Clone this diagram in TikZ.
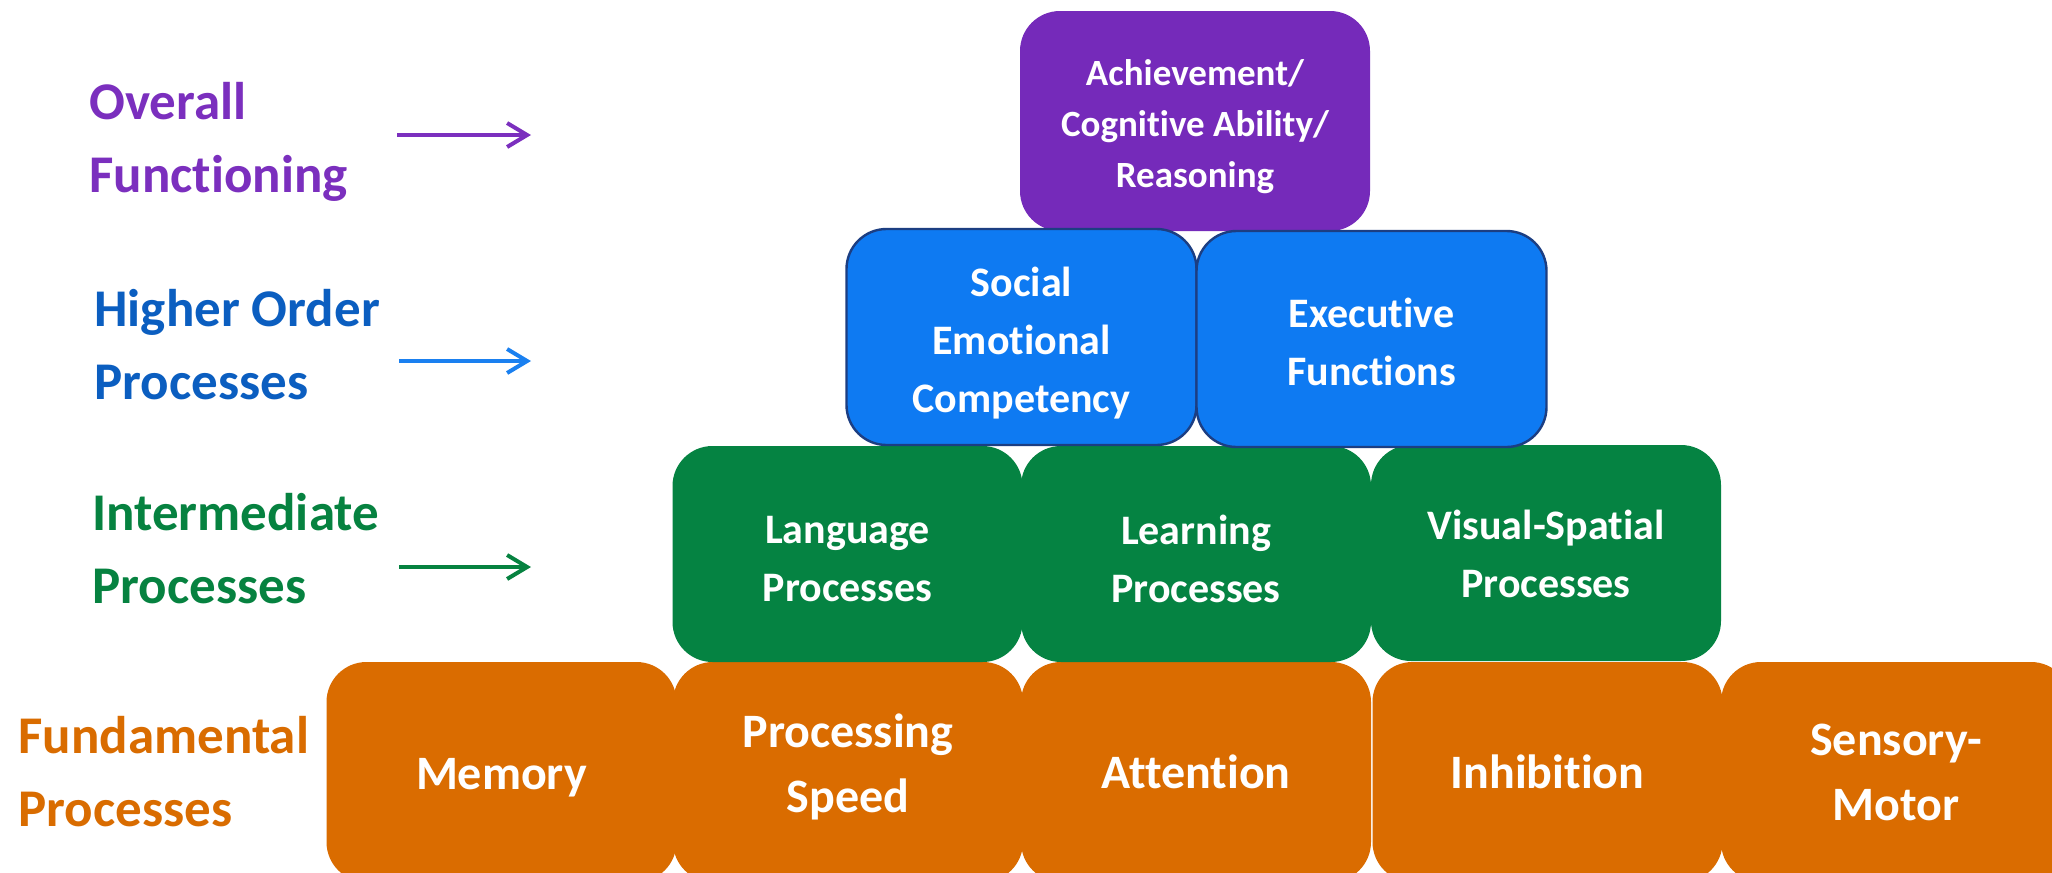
\documentclass[tikz,border=0pt]{standalone}
\usepackage{fontspec}
\setmainfont{Carlito}[Ligatures=CommonOff, Contextuals=AlternateOff]
\usetikzlibrary{arrows.meta}
\definecolor{boxpurple}{RGB}{117,42,186}
\definecolor{boxblue}{RGB}{14,122,242}
\definecolor{bordblue}{RGB}{28,62,130}
\definecolor{boxgreen}{RGB}{5,131,66}
\definecolor{boxorange}{RGB}{218,108,0}
\definecolor{txtpurple}{RGB}{123,47,190}
\definecolor{txtblue}{RGB}{11,94,192}
\definecolor{arrblue}{RGB}{26,128,240}
\definecolor{txtgreen}{RGB}{6,130,64}
\definecolor{txtorange}{RGB}{217,108,0}
\begin{document}
\begin{tikzpicture}[x=0.5pt,y=-0.5pt,
  box/.style={rectangle, rounded corners=20pt, minimum width=175pt, minimum height=108pt,
    inner sep=0pt},
  pbox/.style={box, fill=boxpurple, minimum height=110pt},
  bbox/.style={box, fill=boxblue, draw=bordblue, line width=1.2pt},
  gbox/.style={box, fill=boxgreen},
  obox/.style={box, fill=boxorange, minimum height=110pt},
  btext/.style={inner sep=0pt, text=white, align=center},
  ptext/.style={btext, font=\bfseries\fontsize{18.5pt}{25.5pt}\selectfont},
  mtext/.style={btext, font=\bfseries\fontsize{21pt}{29pt}\selectfont},
  otext/.style={btext, font=\bfseries\fontsize{24pt}{32.5pt}\selectfont},
  lvl/.style={anchor=west, align=left, inner sep=0pt, font=\bfseries\fontsize{26.5pt}{36.5pt}\selectfont},
  lvlarrow/.style={line width=2pt, -{Straight Barb[length=10pt,width=12pt]}}
]
\clip (0,0) rectangle (2052,873);
\fill[white] (0,0) rectangle (2052,873);

% Overall
\node[pbox] (ach) at (1195,121) {};

% Fundamental row
\node[obox] (mem) at (501.5,772) {};
\node[obox] (ps) at (848,772) {};
\node[obox] (att) at (1196,772) {};
\node[obox] (inh) at (1547.5,772) {};
\node[obox] (sm) at (1896,772) {};

% Intermediate row
\node[gbox] (lang) at (847.5,554) {};
\node[gbox] (learn) at (1196,554) {};
\node[gbox] (vis) at (1546,553) {};

% Higher order row
\node[bbox] (soc) at (1021.5,337) {};
\node[bbox] (exe) at (1371.5,339) {};

% Box texts
\node[ptext] (achT) at ([yshift=-3pt]ach.center) {Achievement/\\Cognitive Ability/\\Reasoning};
\node[mtext] (socT) at ([yshift=-3pt]soc.center) {Social\\Emotional\\Competency};
\node[mtext] (exeT) at ([yshift=-1.5pt]exe.center) {Executive\\Functions};
\node[mtext] (langT) at ([yshift=-2.5pt]lang.center) {Language\\Processes};
\node[mtext] (learnT) at ([yshift=-2.5pt]learn.center) {Learning\\Processes};
\node[mtext] (visT) at ([yshift=-0.5pt]vis.center) {Visual-Spatial\\Processes};
\node[otext] (memT) at ([yshift=-3pt]mem.center) {Memory};
\node[otext] (psT) at ([yshift=2.5pt]ps.center) {Processing\\Speed};
\node[otext] (attT) at (att.center) {Attention};
\node[otext] (inhT) at (inh.center) {Inhibition};
\node[otext] (smT) at (sm.center) {Sensory-\\Motor};

% Level labels
\node[lvl, text=txtpurple] (l1) at (89,142) {Overall\\Functioning};
\node[lvl, text=txtblue] (l2) at (94,345) {Higher Order\\Processes};
\node[lvl, text=txtgreen] (l3) at (92,549) {Intermediate\\Processes};
\node[lvl, text=txtorange] (l4) at (18,772) {Fundamental\\Processes};

% Arrows
\coordinate (a1s) at (397,135); \coordinate (a1e) at (531,135);
\coordinate (a2s) at (399,361); \coordinate (a2e) at (531,361);
\coordinate (a3s) at (399,567); \coordinate (a3e) at (531,567);
\draw[lvlarrow, txtpurple] (a1s) -- (a1e);
\draw[lvlarrow, arrblue] (a2s) -- (a2e);
\draw[lvlarrow, txtgreen] (a3s) -- (a3e);
\end{tikzpicture}
\end{document}
